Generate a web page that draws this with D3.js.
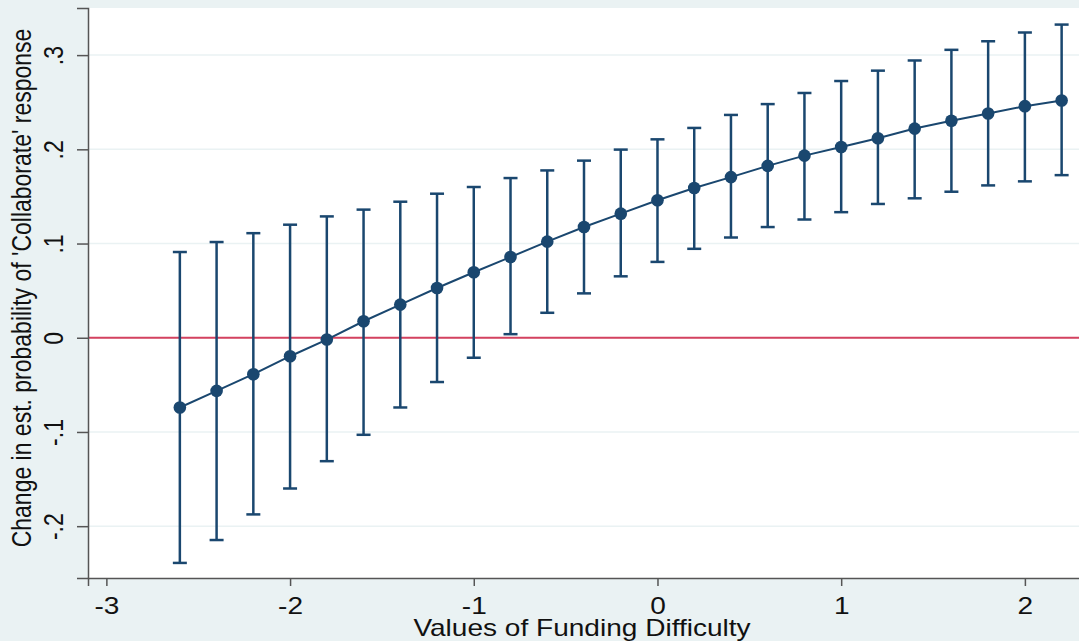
<!DOCTYPE html>
<html>
<head>
<meta charset="utf-8">
<script src="https://cdn.jsdelivr.net/npm/d3@7"></script>
<style>
  body { margin: 0; background: #eaf2f3; }
  svg { display: block; font-family: "Liberation Sans", Arial, sans-serif; }
</style>
</head>
<body>
<div id="chart"></div>
<script>
// values of Funding Difficulty
const xVals = [-2.6, -2.4, -2.2, -2.0, -1.8, -1.6, -1.4, -1.2, -1.0, -0.8, -0.6, -0.4, -0.2,
  0, 0.2, 0.4, 0.6, 0.8, 1.0, 1.2, 1.4, 1.6, 1.8, 2.0, 2.2];

// estimated change in probability
const estimate = [-0.074, -0.0564, -0.0387, -0.0196, -0.0019, 0.0175, 0.0352, 0.0528, 0.0695,
  0.0857, 0.102, 0.1175, 0.1317, 0.146, 0.159, 0.1705, 0.1824, 0.1933, 0.2025, 0.2118,
  0.222, 0.2303, 0.238, 0.2458, 0.2518];

// confidence interval bounds
const upper = [0.091, 0.1016, 0.111, 0.120, 0.1288, 0.136, 0.1444, 0.1529, 0.160, 0.1695,
  0.1776, 0.188, 0.1997, 0.2106, 0.2227, 0.2365, 0.248, 0.2598, 0.2725, 0.2835,
  0.2943, 0.3056, 0.3147, 0.324, 0.3324];
const lower = [-0.239, -0.2147, -0.1875, -0.160, -0.131, -0.103, -0.074, -0.047, -0.0212, 0.0038,
  0.0265, 0.0471, 0.0652, 0.0805, 0.0944, 0.1064, 0.1175, 0.1255, 0.1333, 0.142,
  0.148, 0.155, 0.1617, 0.166, 0.1726];

const xTicks = [-3, -2, -1, 0, 1, 2];
const yTicks = [-0.2, -0.1, 0, 0.1, 0.2, 0.3];
const yTickLabels = ["-.2", "-.1", "0", ".1", ".2", ".3"];

const width = 1079, height = 641;
const plot = { left: 88, top: 8, right: 1080, bottom: 578 };

const navy = "#1a476f";
const fontSize = 23;
const stretch = 1.22; // the picture is a bit wider than tall, text too

const svg = d3.select("#chart").append("svg")
  .attr("width", width)
  .attr("height", height);

svg.append("rect").attr("width", width).attr("height", height).attr("fill", "#eaf2f3");

const x = d3.scaleLinear().domain([-3.1, 2.3]).range([plot.left, plot.right]);
const y = d3.scaleLinear().domain([-0.255, 0.35]).range([plot.bottom, plot.top]);

// plot region
svg.append("rect")
  .attr("x", plot.left).attr("y", plot.top)
  .attr("width", plot.right - plot.left).attr("height", plot.bottom - plot.top)
  .attr("fill", "#ffffff");

// grid lines
svg.append("g")
  .selectAll("line")
  .data(yTicks)
  .join("line")
  .attr("x1", plot.left).attr("x2", plot.right)
  .attr("y1", d => y(d)).attr("y2", d => y(d))
  .attr("stroke", "#eaf2f3").attr("stroke-width", 1.5);

// zero reference line
svg.append("line")
  .attr("x1", plot.left).attr("x2", plot.right)
  .attr("y1", y(0)).attr("y2", y(0))
  .attr("stroke", "#d4425f").attr("stroke-width", 2);

const data = xVals.map((v, i) => ({ x: v, est: estimate[i], lo: lower[i], hi: upper[i] }));

// error bars
const bars = svg.append("g").attr("stroke", navy).attr("stroke-width", 2.5);
bars.selectAll("line.v")
  .data(data)
  .join("line")
  .attr("class", "v")
  .attr("x1", d => x(d.x)).attr("x2", d => x(d.x))
  .attr("y1", d => y(d.lo)).attr("y2", d => y(d.hi));
bars.selectAll("line.top")
  .data(data)
  .join("line")
  .attr("class", "top")
  .attr("x1", d => x(d.x) - 7).attr("x2", d => x(d.x) + 7)
  .attr("y1", d => y(d.hi)).attr("y2", d => y(d.hi));
bars.selectAll("line.bot")
  .data(data)
  .join("line")
  .attr("class", "bot")
  .attr("x1", d => x(d.x) - 7).attr("x2", d => x(d.x) + 7)
  .attr("y1", d => y(d.lo)).attr("y2", d => y(d.lo));

// connecting line
const line = d3.line().x(d => x(d.x)).y(d => y(d.est));
svg.append("path")
  .datum(data)
  .attr("d", line)
  .attr("fill", "none")
  .attr("stroke", navy)
  .attr("stroke-width", 2);

// markers
svg.append("g")
  .selectAll("circle")
  .data(data)
  .join("circle")
  .attr("cx", d => x(d.x)).attr("cy", d => y(d.est))
  .attr("r", 6.3)
  .attr("fill", navy);

// x axis
const xAxis = svg.append("g")
  .attr("transform", `translate(0,${plot.bottom})`)
  .call(d3.axisBottom(x).tickValues(xTicks).tickSize(8).tickPadding(12)
    .tickFormat(d => d3.format("d")(d).replace("−", "-")));
xAxis.select(".domain").attr("stroke", "#555").attr("stroke-width", 1.5);
xAxis.selectAll(".tick line").attr("stroke", "#555").attr("stroke-width", 1.5);
xAxis.selectAll(".tick text")
  .attr("font-size", fontSize).attr("fill", "#111")
  .attr("font-family", "Liberation Sans, Arial, sans-serif")
  .attr("transform", `scale(${stretch},1)`);

// y axis
const yAxis = svg.append("g")
  .attr("transform", `translate(${plot.left},0)`)
  .call(d3.axisLeft(y).tickValues(yTicks).tickSize(11)
    .tickFormat((d, i) => yTickLabels[i]));
yAxis.select(".domain").attr("stroke", "#555").attr("stroke-width", 1.5);
yAxis.selectAll(".tick line").attr("stroke", "#555").attr("stroke-width", 1.5);
yAxis.selectAll(".tick text")
  .attr("font-size", fontSize).attr("fill", "#111")
  .attr("font-family", "Liberation Sans, Arial, sans-serif")
  .attr("x", null).attr("dy", null)
  .attr("text-anchor", "middle")
  .attr("transform", `translate(-25,0) scale(${stretch},1) rotate(-90)`);

// axis titles
svg.append("text")
  .attr("transform", `translate(582,636) scale(${stretch},1)`)
  .attr("text-anchor", "middle")
  .attr("font-size", fontSize).attr("fill", "#111")
  .text("Values of Funding Difficulty");

svg.append("text")
  .attr("transform", `translate(31,288) scale(${stretch},1) rotate(-90)`)
  .attr("text-anchor", "middle")
  .attr("font-size", fontSize).attr("fill", "#111")
  .text("Change in est. probability of 'Collaborate' response");
</script>
</body>
</html>
